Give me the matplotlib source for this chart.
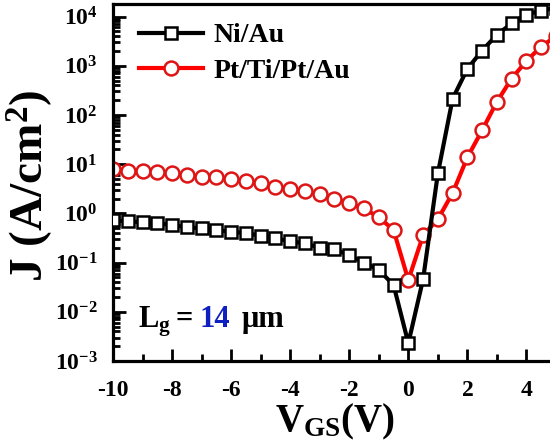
import matplotlib
matplotlib.use('Agg')
import matplotlib.pyplot as plt
import matplotlib.ticker as mtick

plt.rcParams['font.family'] = ['Liberation Serif', 'DejaVu Serif']
plt.rcParams['font.weight'] = 'bold'
plt.rcParams['axes.labelweight'] = 'bold'
plt.rcParams['axes.unicode_minus'] = False
plt.rcParams['mathtext.fontset'] = 'custom'
plt.rcParams['mathtext.rm'] = 'Liberation Serif:bold'
plt.rcParams['mathtext.bf'] = 'Liberation Serif:bold'
plt.rcParams['mathtext.it'] = 'Liberation Serif:bold:italic'

# Gate voltage (V)
vgs = [-10, -9.5, -9, -8.5, -8, -7.5, -7, -6.5, -6, -5.5, -5,
       -4.5, -4, -3.5, -3, -2.5, -2, -1.5, -1, -0.5, 0,
       0.5, 1, 1.5, 2, 2.5, 3, 3.5, 4, 4.5, 5]

# Current density (A/cm2)
j_niau = [0.72, 0.69, 0.66, 0.63, 0.58, 0.52, 0.50, 0.46, 0.42, 0.40, 0.35,
          0.31, 0.27, 0.245, 0.20, 0.19, 0.14, 0.10, 0.071, 0.035, 0.0023,
          0.046, 6.5, 214, 870, 2040, 4270, 7240, 11000, 13200, 15100]
j_pt = [8.1, 7.4, 7.1, 6.8, 6.5, 5.9, 5.6, 5.4, 4.9, 4.5, 4.1,
        3.5, 3.2, 2.8, 2.45, 2.0, 1.6, 1.26, 0.83, 0.46, 0.044,
        0.36, 0.76, 2.6, 13.8, 49, 186, 550, 1260, 2450, 4000]

fig = plt.figure(figsize=(5.5, 4.48), dpi=100)
ax = fig.add_axes([113 / 550, 87 / 448, (556 - 113) / 550, (444 - 87) / 448])

ax.plot(vgs, j_niau, color='black', lw=3, marker='s', ms=8.5,
        mfc='white', mec='black', mew=1.8, label='Ni/Au', zorder=3)
ax.plot(vgs, j_pt, color='#ff0000', lw=3, marker='o', ms=10,
        mfc='white', mec='#dd1515', mew=1.8, label='Pt/Ti/Pt/Au', zorder=2)

ax.set_yscale('log')
ax.set_xlim(-10, 5)
ax.set_ylim(1e-3, 10 ** 4.255)
ax.xaxis.set_major_locator(mtick.MultipleLocator(2))
ax.xaxis.set_minor_locator(mtick.MultipleLocator(1))
ax.yaxis.set_major_locator(mtick.LogLocator(base=10, numticks=20))
ax.yaxis.set_minor_locator(mtick.LogLocator(base=10, subs=range(2, 10), numticks=20))
ax.yaxis.set_minor_formatter(mtick.NullFormatter())

ax.tick_params(which='both', direction='in', top=False, right=False, width=2)
ax.tick_params(which='major', length=9, labelsize=17)
ax.tick_params(which='minor', length=5)
ax.tick_params(axis='x', which='major', pad=14)
ax.tick_params(axis='y', which='major', pad=11)
for s in ax.spines.values():
    s.set_linewidth(2.3)

ax.set_xlabel(r'V$_{\mathbf{GS}}$(V)', fontsize=28, labelpad=0)
ax.set_ylabel(r'J (A/cm$^{\mathbf{2}}$)', fontsize=34)
ax.yaxis.set_label_coords(-0.13, 0.49)

ax.legend(loc='upper left', frameon=False, fontsize=20, handlelength=2.3,
          handletextpad=0.4, labelspacing=0.35, borderaxespad=0,
          bbox_to_anchor=(0.033, 0.978))

# L_g = 14 um, with the number in blue
ax.text(0.056, 0.095, r'L$_{\mathbf{g}}$', transform=ax.transAxes,
        fontsize=22, va='baseline')
ax.text(0.140, 0.095, '=', transform=ax.transAxes, fontsize=22, va='baseline')
ax.text(0.196, 0.095, '14', color='#1020c0', transform=ax.transAxes,
        fontsize=22, va='baseline')
ax.text(0.291, 0.095, 'μm', transform=ax.transAxes, fontsize=22, va='baseline')

fig.savefig('out.png', dpi=100)
